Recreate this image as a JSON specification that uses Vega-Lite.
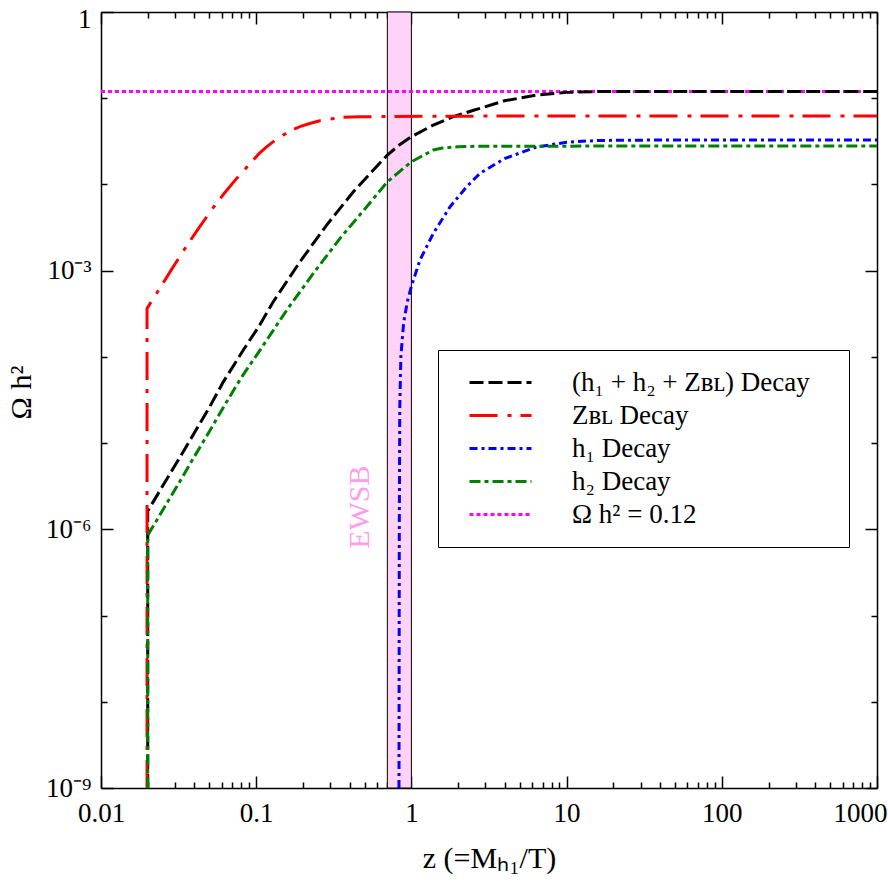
{
  "$schema": "https://vega.github.io/schema/vega-lite/v6.json",
  "width": 776,
  "height": 776,
  "autosize": "none",
  "padding": {"left": 101, "top": 12, "right": 11, "bottom": 102},
  "background": "white",
  "config": {
    "view": {"stroke": null},
    "font": "Liberation Serif",
    "axis": {
      "grid": false, "domainColor": "black", "domainWidth": 1.5, "tickColor": "black", "tickWidth": 1.5,
      "labelColor": "black", "labelFont": "Liberation Serif", "labelFontSize": 27,
      "titleFont": "Liberation Serif", "titleColor": "black", "titleFontWeight": "normal", "titleFontSize": 30,
      "zindex": 2, "labelFlush": false, "labelOverlap": false
    },
    "legend": {
      "orient": "none", "legendX": 337, "legendY": 338, "title": null,
      "symbolType": "M-3,0H3", "symbolSize": 427, "symbolStrokeWidth": 3,
      "labelFont": "Liberation Serif", "labelFontSize": 27, "labelColor": "black",
      "labelOffset": 58, "labelLimit": 600, "padding": 19, "symbolOffset": 30,
      "strokeColor": "black", "fillColor": "white", "rowPadding": 5
    }
  },
  "datasets": {
    "band": [{"x1": 0.7, "x2": 1.0}],
    "ref": [{"s": "Ω h² = 0.12", "x": 0.01, "y": 0.12}, {"s": "Ω h² = 0.12", "x": 1000, "y": 0.12}],
    "curves": [
      {"s": "(h₁ + h₂ + Zʙʟ) Decay", "x": 0.02, "y": 1e-9},
      {"s": "(h₁ + h₂ + Zʙʟ) Decay", "x": 0.02, "y": 1.63e-6},
      {"s": "(h₁ + h₂ + Zʙʟ) Decay", "x": 0.02512, "y": 3.24e-6},
      {"s": "(h₁ + h₂ + Zʙʟ) Decay", "x": 0.03162, "y": 6.46e-6},
      {"s": "(h₁ + h₂ + Zʙʟ) Decay", "x": 0.03981, "y": 1.30e-5},
      {"s": "(h₁ + h₂ + Zʙʟ) Decay", "x": 0.05012, "y": 2.63e-5},
      {"s": "(h₁ + h₂ + Zʙʟ) Decay", "x": 0.06138, "y": 5.13e-5},
      {"s": "(h₁ + h₂ + Zʙʟ) Decay", "x": 0.0826, "y": 1.2e-4},
      {"s": "(h₁ + h₂ + Zʙʟ) Decay", "x": 0.1047, "y": 2.3e-4},
      {"s": "(h₁ + h₂ + Zʙʟ) Decay", "x": 0.1288, "y": 4.36e-4},
      {"s": "(h₁ + h₂ + Zʙʟ) Decay", "x": 0.1914, "y": 1.268e-3},
      {"s": "(h₁ + h₂ + Zʙʟ) Decay", "x": 0.2844, "y": 3.38e-3},
      {"s": "(h₁ + h₂ + Zʙʟ) Decay", "x": 0.4227, "y": 8.22e-3},
      {"s": "(h₁ + h₂ + Zʙʟ) Decay", "x": 0.5689, "y": 0.01469},
      {"s": "(h₁ + h₂ + Zʙʟ) Decay", "x": 0.6998, "y": 0.02193},
      {"s": "(h₁ + h₂ + Zʙʟ) Decay", "x": 0.84, "y": 0.0289},
      {"s": "(h₁ + h₂ + Zʙʟ) Decay", "x": 1.0, "y": 0.03581},
      {"s": "(h₁ + h₂ + Zʙʟ) Decay", "x": 1.384, "y": 0.04887},
      {"s": "(h₁ + h₂ + Zʙʟ) Decay", "x": 1.862, "y": 0.06109},
      {"s": "(h₁ + h₂ + Zʙʟ) Decay", "x": 2.512, "y": 0.07244},
      {"s": "(h₁ + h₂ + Zʙʟ) Decay", "x": 3.981, "y": 0.0933},
      {"s": "(h₁ + h₂ + Zʙʟ) Decay", "x": 6.31, "y": 0.1084},
      {"s": "(h₁ + h₂ + Zʙʟ) Decay", "x": 10, "y": 0.1169},
      {"s": "(h₁ + h₂ + Zʙʟ) Decay", "x": 15.85, "y": 0.1197},
      {"s": "(h₁ + h₂ + Zʙʟ) Decay", "x": 1000, "y": 0.12},
      {"s": "Zʙʟ Decay", "x": 0.0198, "y": 1e-9},
      {"s": "Zʙʟ Decay", "x": 0.0198, "y": 3.65e-4},
      {"s": "Zʙʟ Decay", "x": 0.02339, "y": 5.85e-4},
      {"s": "Zʙʟ Decay", "x": 0.02818, "y": 1.0e-3},
      {"s": "Zʙʟ Decay", "x": 0.03475, "y": 1.81e-3},
      {"s": "Zʙʟ Decay", "x": 0.04285, "y": 3.16e-3},
      {"s": "Zʙʟ Decay", "x": 0.05297, "y": 5.42e-3},
      {"s": "Zʙʟ Decay", "x": 0.0631, "y": 8.13e-3},
      {"s": "Zʙʟ Decay", "x": 0.07482, "y": 0.01175},
      {"s": "Zʙʟ Decay", "x": 0.08551, "y": 0.01535},
      {"s": "Zʙʟ Decay", "x": 0.1047, "y": 0.02291},
      {"s": "Zʙʟ Decay", "x": 0.1161, "y": 0.02704},
      {"s": "Zʙʟ Decay", "x": 0.1288, "y": 0.03133},
      {"s": "Zʙʟ Decay", "x": 0.139, "y": 0.03451},
      {"s": "Zʙʟ Decay", "x": 0.1496, "y": 0.03741},
      {"s": "Zʙʟ Decay", "x": 0.1698, "y": 0.04266},
      {"s": "Zʙʟ Decay", "x": 0.1914, "y": 0.04677},
      {"s": "Zʙʟ Decay", "x": 0.2239, "y": 0.05129},
      {"s": "Zʙʟ Decay", "x": 0.2576, "y": 0.05483},
      {"s": "Zʙʟ Decay", "x": 0.309, "y": 0.05781},
      {"s": "Zʙʟ Decay", "x": 0.3639, "y": 0.05998},
      {"s": "Zʙʟ Decay", "x": 0.4677, "y": 0.06095},
      {"s": "Zʙʟ Decay", "x": 0.6592, "y": 0.06138},
      {"s": "Zʙʟ Decay", "x": 3.162, "y": 0.06209},
      {"s": "Zʙʟ Decay", "x": 1000, "y": 0.0622},
      {"s": "h₁ Decay", "x": 0.8318, "y": 1e-9},
      {"s": "h₁ Decay", "x": 0.8356, "y": 1e-6},
      {"s": "h₁ Decay", "x": 0.8414, "y": 2.51e-5},
      {"s": "h₁ Decay", "x": 0.8551, "y": 1e-4},
      {"s": "h₁ Decay", "x": 0.8913, "y": 2.51e-4},
      {"s": "h₁ Decay", "x": 0.9441, "y": 4.47e-4},
      {"s": "h₁ Decay", "x": 1.0046, "y": 6.76e-4},
      {"s": "h₁ Decay", "x": 1.135, "y": 1.327e-3},
      {"s": "h₁ Decay", "x": 1.384, "y": 2.71e-3},
      {"s": "h₁ Decay", "x": 1.774, "y": 5.51e-3},
      {"s": "h₁ Decay", "x": 2.27, "y": 9.4e-3},
      {"s": "h₁ Decay", "x": 2.767, "y": 0.01346},
      {"s": "h₁ Decay", "x": 3.981, "y": 0.01995},
      {"s": "h₁ Decay", "x": 6.31, "y": 0.02692},
      {"s": "h₁ Decay", "x": 10, "y": 0.0309},
      {"s": "h₁ Decay", "x": 15.85, "y": 0.03236},
      {"s": "h₁ Decay", "x": 31.6, "y": 0.03266},
      {"s": "h₁ Decay", "x": 1000, "y": 0.0327},
      {"s": "h₂ Decay", "x": 0.02, "y": 1e-9},
      {"s": "h₂ Decay", "x": 0.02, "y": 8.5e-7},
      {"s": "h₂ Decay", "x": 0.02512, "y": 1.7e-6},
      {"s": "h₂ Decay", "x": 0.03162, "y": 3.39e-6},
      {"s": "h₂ Decay", "x": 0.03981, "y": 6.92e-6},
      {"s": "h₂ Decay", "x": 0.05012, "y": 1.38e-5},
      {"s": "h₂ Decay", "x": 0.0631, "y": 2.82e-5},
      {"s": "h₂ Decay", "x": 0.0807, "y": 5.87e-5},
      {"s": "h₂ Decay", "x": 0.1059, "y": 1.2e-4},
      {"s": "h₂ Decay", "x": 0.1574, "y": 3.49e-4},
      {"s": "h₂ Decay", "x": 0.2333, "y": 9.29e-4},
      {"s": "h₂ Decay", "x": 0.3467, "y": 2.37e-3},
      {"s": "h₂ Decay", "x": 0.5152, "y": 5.51e-3},
      {"s": "h₂ Decay", "x": 0.6998, "y": 0.01074},
      {"s": "h₂ Decay", "x": 1.0, "y": 0.01832},
      {"s": "h₂ Decay", "x": 1.384, "y": 0.02506},
      {"s": "h₂ Decay", "x": 1.585, "y": 0.02642},
      {"s": "h₂ Decay", "x": 1.995, "y": 0.02742},
      {"s": "h₂ Decay", "x": 2.818, "y": 0.0278},
      {"s": "h₂ Decay", "x": 1000, "y": 0.0279}
    ]
  },
  "layer": [
    {
      "data": {"name": "band"},
      "mark": {"type": "rect", "fill": "#ffd2f8", "stroke": "black", "strokeWidth": 1},
      "encoding": {
        "x": {"field": "x1", "type": "quantitative",
          "scale": {"type": "log", "domain": [0.01, 1000], "nice": false},
          "axis": {"orient": "bottom", "values": [0.01, 0.1, 1, 10, 100, 1000], "tickSize": -12, "labelPadding": 24,
            "labelExpr": "datum.value >= 999 ? '1000' : datum.value >= 99 ? '100' : datum.value >= 9 ? '10' : datum.value >= 0.9 ? '1' : datum.value >= 0.09 ? '0.1' : '0.01'",
            "labelOffset": {"condition": {"test": "datum.value >= 999", "value": -17}, "value": 0},
            "title": "z (=Mₕ₁/T)", "titleBaseline": "alphabetic", "titleY": 79, "titleX": 388, "titleAlign": "center"}},
        "x2": {"field": "x2"},
        "y": {"datum": 1e-9, "type": "quantitative",
          "scale": {"type": "log", "domain": [1e-9, 1], "nice": false},
          "axis": {"orient": "left", "values": [1e-9, 1e-6, 1e-3, 1], "tickSize": -12, "labelPadding": 22,
            "labelExpr": "datum.value >= 0.5 ? '1' : datum.value >= 5e-4 ? '10⁻³' : datum.value >= 5e-7 ? '10⁻⁶' : '10⁻⁹'",
            "labelOffset": {"condition": {"test": "datum.value >= 0.5", "value": 7}, "value": 0},
            "title": "Ω h²", "titleX": -71, "titleY": 380, "titleAngle": -90, "titleBaseline": "alphabetic", "titleAlign": "center"}},
        "y2": {"datum": 1}
      }
    },
    {
      "data": {"name": "ref"},
      "mark": {"type": "line", "strokeWidth": 3, "clip": true},
      "encoding": {
        "x": {"field": "x", "type": "quantitative",
          "scale": {"type": "log", "domain": [0.01, 1000], "nice": false},
          "axis": {"orient": "bottom", "values": [0.02,0.03,0.04,0.05,0.06,0.07,0.08,0.09,0.2,0.3,0.4,0.5,0.6,0.7,0.8,0.9,2,3,4,5,6,7,8,9,20,30,40,50,60,70,80,90,200,300,400,500,600,700,800,900], "tickSize": -6, "labels": false, "domain": false, "title": null}},
        "y": {"field": "y", "type": "quantitative",
          "scale": {"type": "log", "domain": [1e-9, 1], "nice": false},
          "axis": {"orient": "left", "values": [1e-8, 1e-7, 1e-5, 1e-4, 1e-2, 1e-1], "tickSize": -6, "labels": false, "domain": false, "title": null}},
        "color": {"field": "s", "type": "nominal",
          "scale": {"domain": ["(h₁ + h₂ + Zʙʟ) Decay", "Zʙʟ Decay", "h₁ Decay", "h₂ Decay", "Ω h² = 0.12"], "range": ["#000000", "#ff0000", "#0000ff", "#008000", "#ff00ff"]},
          "legend": {"labelExpr": "datum.label + '\u2800'"}},
        "strokeDash": {"field": "s", "type": "nominal",
          "scale": {"domain": ["(h₁ + h₂ + Zʙʟ) Decay", "Zʙʟ Decay", "h₁ Decay", "h₂ Decay", "Ω h² = 0.12"], "range": [[14, 5], [28, 10, 4, 9], [8, 4, 3, 4], [11, 4, 4, 4], [4, 3]]},
          "legend": {"labelExpr": "datum.label + '\u2800'"}}
      }
    },
    {
      "data": {"name": "curves"},
      "mark": {"type": "line", "strokeWidth": 3, "clip": true},
      "encoding": {
        "x": {"field": "x", "type": "quantitative",
          "scale": {"type": "log", "domain": [0.01, 1000], "nice": false},
          "axis": {"orient": "top", "values": [0.01, 0.1, 1, 10, 100, 1000], "tickSize": -12, "labels": false, "title": null}},
        "y": {"field": "y", "type": "quantitative",
          "scale": {"type": "log", "domain": [1e-9, 1], "nice": false},
          "axis": {"orient": "right", "values": [1e-9, 1e-6, 1e-3, 1], "tickSize": -12, "labels": false, "title": null}},
        "order": {"value": null},
        "color": {"field": "s", "type": "nominal",
          "scale": {"domain": ["(h₁ + h₂ + Zʙʟ) Decay", "Zʙʟ Decay", "h₁ Decay", "h₂ Decay", "Ω h² = 0.12"], "range": ["#000000", "#ff0000", "#0000ff", "#008000", "#ff00ff"]},
          "legend": {"labelExpr": "datum.label + '\u2800'"}},
        "strokeDash": {"field": "s", "type": "nominal",
          "scale": {"domain": ["(h₁ + h₂ + Zʙʟ) Decay", "Zʙʟ Decay", "h₁ Decay", "h₂ Decay", "Ω h² = 0.12"], "range": [[14, 5], [28, 10, 4, 9], [8, 4, 3, 4], [11, 4, 4, 4], [4, 3]]},
          "legend": {"labelExpr": "datum.label + '\u2800'"}}
      }
    },
    {
      "data": {"values": [{}]},
      "mark": {"type": "text", "text": "EWSB", "angle": 270, "font": "Liberation Serif", "fontSize": 30, "color": "#ff9cf0", "align": "center", "baseline": "middle"},
      "encoding": {
        "x": {"datum": 0.467, "type": "quantitative",
          "scale": {"type": "log", "domain": [0.01, 1000], "nice": false},
          "axis": {"orient": "top", "values": [0.02,0.03,0.04,0.05,0.06,0.07,0.08,0.09,0.2,0.3,0.4,0.5,0.6,0.7,0.8,0.9,2,3,4,5,6,7,8,9,20,30,40,50,60,70,80,90,200,300,400,500,600,700,800,900], "tickSize": -6, "labels": false, "domain": false, "title": null}},
        "y": {"datum": 1.81e-6, "type": "quantitative",
          "scale": {"type": "log", "domain": [1e-9, 1], "nice": false},
          "axis": {"orient": "right", "values": [1e-8, 1e-7, 1e-5, 1e-4, 1e-2, 1e-1], "tickSize": -6, "labels": false, "domain": false, "title": null}}
      }
    }
  ],
  "resolve": {"axis": {"x": "independent", "y": "independent"}}
}
